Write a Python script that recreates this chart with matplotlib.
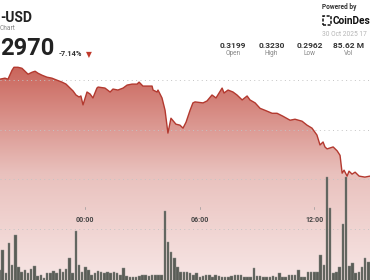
import numpy as np
import matplotlib.pyplot as plt
from matplotlib.colors import LinearSegmentedColormap
from matplotlib.patches import Polygon, Rectangle

plt.rcParams['font.family'] = ['Roboto', 'DejaVu Sans']

# price line (hours relative to 00:00, price in USD)
hours = [-4.47, -4.21, -4.05, -3.84, -3.74, -3.53, -3.32, -3.16, -3.00, -2.79,
         -2.63, -2.48, -2.27, -2.01, -1.75, -1.49, -1.22, -1.01, -0.80, -0.64,
         -0.49, -0.33, -0.23, -0.12, 0.09, 0.25, 0.40, 0.61, 0.67, 1.03,
         1.30, 1.45, 1.71, 1.98, 2.19, 2.45, 2.71, 2.82, 3.02, 3.29,
         3.50, 3.55, 3.76, 3.81, 4.02, 4.18, 4.33, 4.49, 4.75, 4.96,
         5.12, 5.28, 5.49, 5.64, 5.75, 6.17, 6.38, 6.64, 6.85, 7.17,
         7.27, 7.48, 7.74, 7.95, 8.22, 8.48, 8.63, 8.90, 9.16, 9.42,
         9.79, 10.05, 10.36, 10.73, 10.99, 11.36, 11.62, 11.88, 12.14, 12.30,
         12.46, 12.56, 12.67, 12.83, 12.99, 13.20, 13.35, 13.46, 13.56, 13.72,
         13.82, 13.98, 14.14, 14.35, 14.65, 14.92]
price = [0.3202, 0.3204, 0.3202, 0.3220, 0.3226, 0.3226, 0.3224, 0.3218, 0.3212, 0.3216,
         0.3218, 0.3214, 0.3210, 0.3206, 0.3204, 0.3200, 0.3196, 0.3192, 0.3184, 0.3178,
         0.3170, 0.3166, 0.3168, 0.3150, 0.3176, 0.3172, 0.3164, 0.3184, 0.3186, 0.3184,
         0.3176, 0.3182, 0.3180, 0.3184, 0.3190, 0.3192, 0.3192, 0.3196, 0.3188, 0.3188,
         0.3188, 0.3180, 0.3176, 0.3180, 0.3164, 0.3139, 0.3093, 0.3123, 0.3111, 0.3109,
         0.3103, 0.3115, 0.3139, 0.3154, 0.3156, 0.3154, 0.3158, 0.3170, 0.3164, 0.3184,
         0.3174, 0.3180, 0.3176, 0.3170, 0.3160, 0.3168, 0.3160, 0.3154, 0.3143, 0.3139,
         0.3133, 0.3133, 0.3127, 0.3119, 0.3121, 0.3117, 0.3109, 0.3103, 0.3089, 0.3069,
         0.3075, 0.3065, 0.3061, 0.3063, 0.3065, 0.3057, 0.3048, 0.3012, 0.3018, 0.3006,
         0.3016, 0.3010, 0.3014, 0.3006, 0.3004, 0.3006]

# volume per 10 minutes, millions, first bar at 19:30 the day before
bar_start = -4.5
volume = [1.1, 3.1, 0.8, 3.8, 1.6, 4.6, 1.4, 0.9, 1.1, 0.8,
          1.2, 1.5, 0.5, 0.6, 0.3, 0.8, 0.8, 1.0, 0.8, 1.2,
          0.9, 1.2, 2.3, 0.8, 5.0, 1.6, 0.9, 1.4, 1.1, 0.6,
          0.8, 1.0, 0.9, 0.8, 0.9, 0.8, 0.9, 0.8, 0.6, 1.3,
          0.5, 0.4, 0.4, 0.4, 0.5, 0.6, 0.6, 0.5, 0.6, 0.6,
          0.6, 0.6, 7.0, 3.9, 2.9, 2.3, 1.4, 0.9, 0.9, 0.9,
          0.8, 0.6, 0.8, 0.4, 0.5, 0.6, 0.6, 0.4, 0.6, 0.5,
          0.4, 0.4, 0.4, 0.5, 0.6, 0.6, 0.6, 0.4, 0.4, 0.4,
          1.3, 0.5, 0.5, 0.4, 0.4, 0.4, 0.5, 0.4, 0.8, 0.4,
          0.4, 0.6, 0.6, 0.6, 1.1, 0.4, 0.4, 0.9, 0.9, 0.9,
          0.9, 2.6, 1.6, 10.4, 7.3, 0.8, 0.9, 1.4, 5.7, 10.4,
          1.5, 1.8, 0.8, 0.9, 1.4, 2.3, 1.9]
bar_hours = bar_start + np.arange(len(volume)) / 6

tick_hours = [0, 6, 12]
tick_labels = ['00:00', '06:00', '12:00']
grid_levels = [0.29, 0.30, 0.31, 0.32]

stats_values = ['0.3199', '0.3230', '0.2962', '85.62 M']
stats_names = ['Open', 'High', 'Low', 'Vol']

W, H = 370, 280
fig = plt.figure(figsize=(W / 100, H / 100), dpi=100)
fig.patch.set_facecolor('white')

ax = fig.add_axes([0, 0, 1, 1])
ax.set_xlim(hours[0], hours[-1])
ymin, ymax = 0.2796, 0.3362
ax.set_ylim(ymin, ymax)
ax.axis('off')

# gradient fill under the price line
cmap = LinearSegmentedColormap.from_list('fill', ['#f7e6e5', '#e9c1bd', '#ca655b'])
grad = np.linspace(1, 0, 256).reshape(-1, 1)
im = ax.imshow(grad, cmap=cmap, aspect='auto', origin='upper',
               extent=[hours[0], hours[-1], ymin, max(price)], vmin=0, vmax=1, zorder=1)
verts = [(hours[0], ymin)] + list(zip(hours, price)) + [(hours[-1], ymin)]
poly = Polygon(verts, closed=True, facecolor='none', edgecolor='none')
ax.add_patch(poly)
im.set_clip_path(poly)

for lv in grid_levels:
    ax.axhline(lv, color='#c4c4c4', lw=0.7, ls=(0, (1, 3.5)), zorder=2)

for h, lab in zip(tick_hours, tick_labels):
    ax.plot([h, h], [0.255, 0.262], transform=ax.get_xaxis_transform(),
            color='#999999', lw=0.5, zorder=3)
    ax.text(h, 0.214, lab, transform=ax.get_xaxis_transform(), ha='center', va='center',
            fontsize=5, fontweight='bold', color='#444444', zorder=3)

# volume bars
axv = ax.twinx()
axv.set_ylim(0.1, 28.1)
axv.axis('off')
axv.bar(bar_hours, volume, width=0.13, color='#5a5d57', edgecolor='#8a8c87', linewidth=0.3)
axv.plot(hours, price, transform=ax.transData, color='#b3392f', lw=1.0)


def px(x, y):
    return x / W, 1 - y / H


# header text
fig.text(*px(0, 17.5), '-USD', fontsize=10, fontweight='bold', color='#222222', va='center')
fig.text(*px(0, 28.5), 'Chart', fontsize=4.7, color='#888888', va='center')
fig.text(*px(0, 48), '2970', fontsize=17, fontweight='bold', color='#222222', va='center')
fig.text(*px(59, 54), '-7.14%', fontsize=5.4, fontweight='bold', color='#333333', va='center')
fig.text(*px(89, 54.5), '\u25bc', fontsize=5.5, color='#c0392b', va='center', ha='center',
         family=['DejaVu Sans'])

fig.text(*px(322, 7), 'Powered by', fontsize=4.7, fontweight='bold', color='#333333', va='center')
fig.patches.append(Rectangle(px(322.5, 24.5), 8 / W, 8 / H, transform=fig.transFigure,
                             fill=False, edgecolor='#111111', lw=1.1, ls=(0, (2, 1))))
fig.text(*px(333, 20.5), 'CoinDesk', fontsize=7.3, fontweight='bold', color='#111111', va='center')
fig.text(*px(322, 34), '30 Oct 2025 17', fontsize=4.8, color='#b5b5b5', va='center')

for i, (v, n) in enumerate(zip(stats_values, stats_names)):
    cx = 233 + i * 38.5
    fig.text(*px(cx, 45), v, fontsize=6, fontweight='bold', color='#333333', ha='center', va='center')
    fig.text(*px(cx, 53.5), n, fontsize=4.7, color='#888888', ha='center', va='center')

fig.savefig('out.png', dpi=100, facecolor='white')
